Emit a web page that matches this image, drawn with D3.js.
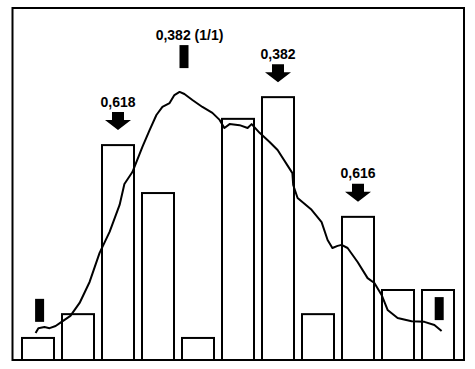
<!DOCTYPE html>
<html>
<head>
<meta charset="utf-8">
<script src="https://cdn.jsdelivr.net/npm/d3@7"></script>
<style>
  body { margin: 0; background: #fff; }
  svg text { font-family: "Liberation Sans", Arial, sans-serif; font-weight: bold; font-size: 14px; }
</style>
</head>
<body>
<div id="chart"></div>
<script>
// bar heights (arbitrary units)
var bins = d3.range(11);
var barValues = [6.3, 13.1, 61.4, 47.7, 6.3, 68.9, 75.1, 13.1, 40.9, 20, 20];

// traced curve: position in bin units, value in bar units
var curveX = [-0.06, 0.01, 0.16, 0.29, 0.44, 0.59, 0.81, 1.04, 1.29, 1.54, 1.79, 2.04, 2.16, 2.36, 2.61, 2.79, 2.96, 3.11, 3.29, 3.41, 3.54, 3.66, 3.86, 4.11, 4.36, 4.54, 4.66, 4.79, 5.04, 5.24, 5.34, 5.54, 5.79, 5.99, 6.36, 6.38, 6.49, 6.84, 7.09, 7.24, 7.36, 7.49, 7.59, 7.74, 7.99, 8.24, 8.41, 8.59, 8.74, 8.99, 9.34, 9.66, 9.91, 10.09];
var curveY = [7.7, 9.1, 9.4, 9.1, 9.7, 10.9, 12.6, 16.3, 22.3, 30.6, 36.6, 44.3, 50.3, 53.7, 60.9, 65.7, 70.0, 72.3, 73.4, 75.7, 76.6, 76.0, 74.3, 72.3, 70.6, 68.6, 66.3, 67.4, 67.1, 66.3, 67.4, 64.9, 62.3, 60.0, 53.4, 50.0, 46.3, 42.9, 39.4, 34.3, 32.0, 32.6, 32.9, 32.0, 28.0, 23.4, 22.0, 18.6, 14.3, 12.0, 11.1, 10.9, 10.0, 8.3];

// arrows over bars
var arrowBins = [2, 6, 8];
var arrowLabels = ["0,618", "0,382", "0,616"];

// small black markers (start, peak, end of curve)
var markerX = [0.04, 3.65, 10.03];
var markerY = [10.9, 83.4, 11.4];
var markerLabels = ["", "0,382 (1/1)", ""];

var W = 475, H = 369;
var frame = { left: 12.5, top: 8, right: 464, bottom: 360 };

var svg = d3.select("#chart")
    .append("svg")
    .attr("width", W)
    .attr("height", H);

var x = d3.scaleBand()
    .domain(bins)
    .range([18, 458])
    .paddingInner(0.2)
    .paddingOuter(0.1);

var xc = d3.scaleLinear()
    .domain([0, 10])
    .range([x(0) + x.bandwidth() / 2, x(10) + x.bandwidth() / 2]);

var y = d3.scaleLinear()
    .domain([0, 100])
    .range([frame.bottom, 10]);

// bars
svg.selectAll(".bar")
    .data(barValues)
    .enter()
    .append("rect")
    .attr("class", "bar")
    .attr("x", function (d, i) { return x(i); })
    .attr("y", function (d) { return y(d); })
    .attr("width", x.bandwidth())
    .attr("height", function (d) { return y(0) - y(d); })
    .attr("fill", "#fff")
    .attr("stroke", "#000")
    .attr("stroke-width", 2);

// curve
var line = d3.line()
    .x(function (d) { return xc(d[0]); })
    .y(function (d) { return y(d[1]); })
    .curve(d3.curveLinear);

svg.append("path")
    .datum(d3.zip(curveX, curveY))
    .attr("d", line)
    .attr("fill", "none")
    .attr("stroke", "#000")
    .attr("stroke-width", 2)
    .attr("stroke-linejoin", "round");

// arrows: shaft + head, tip sits 15px above the bar
var shaftH = 8, headH = 10;
var arrowPath = function (cx, tip) {
    var shaftW = 6, headW = 13;
    var hy = tip - headH, ty = hy - shaftH;
    return "M" + (cx - shaftW) + "," + ty +
        "H" + (cx + shaftW) + "V" + hy +
        "H" + (cx + headW) + "L" + cx + "," + tip +
        "L" + (cx - headW) + "," + hy +
        "H" + (cx - shaftW) + "Z";
};

var arrows = svg.selectAll(".arrow")
    .data(arrowBins)
    .enter()
    .append("g")
    .attr("class", "arrow");

arrows.append("path")
    .attr("d", function (d) {
        return arrowPath(x(d) + x.bandwidth() / 2, y(barValues[d]) - 15);
    })
    .attr("fill", "#000");

arrows.append("text")
    .attr("x", function (d) { return x(d) + x.bandwidth() / 2; })
    .attr("y", function (d) { return y(barValues[d]) - 15 - headH - shaftH - 5.5; })
    .attr("text-anchor", "middle")
    .text(function (d, i) { return arrowLabels[i]; });

// markers
var mk = svg.selectAll(".marker")
    .data(markerX)
    .enter()
    .append("g")
    .attr("class", "marker");

mk.append("rect")
    .attr("x", function (d) { return xc(d) - 4.5; })
    .attr("y", function (d, i) { return y(markerY[i]) - 23; })
    .attr("width", 9)
    .attr("height", 23)
    .attr("fill", "#000");

mk.append("text")
    .attr("x", function (d) { return xc(d) + 5.5; })
    .attr("y", function (d, i) { return y(markerY[i]) - 23 - 5.5; })
    .attr("text-anchor", "middle")
    .text(function (d, i) { return markerLabels[i]; });

// frame
svg.append("rect")
    .attr("x", frame.left)
    .attr("y", frame.top)
    .attr("width", frame.right - frame.left)
    .attr("height", frame.bottom - frame.top)
    .attr("fill", "none")
    .attr("stroke", "#000")
    .attr("stroke-width", 2);
</script>
</body>
</html>
